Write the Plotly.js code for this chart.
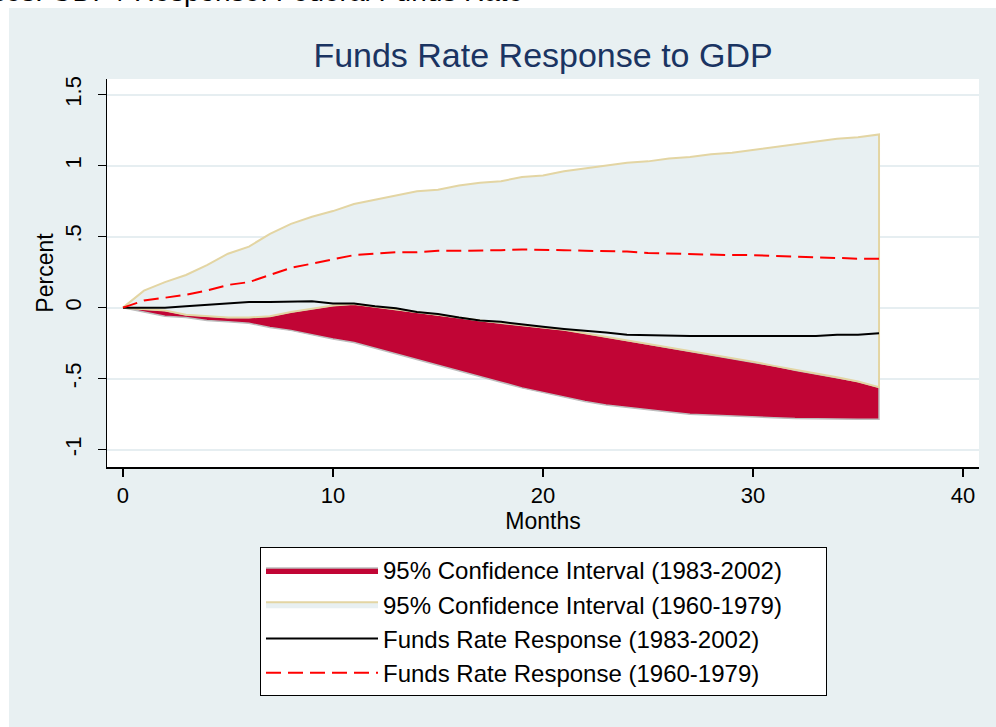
<!DOCTYPE html>
<html>
<head>
<meta charset="utf-8">
<script src="https://cdn.plot.ly/plotly-3.0.1.min.js"></script>
<style>
html,body{margin:0;padding:0;background:#ffffff;}
#chart{width:996px;height:727px;}
</style>
</head>
<body>
<div id="chart"></div>
<script>
// Months after the GDP shock
const months = [0,1,2,3,4,5,6,7,8,9,10,11,12,13,14,15,16,17,18,19,20,21,22,23,24,25,26,27,28,29,30,31,32,33,34,35,36];

// Funds rate response (1983-2002), black solid line
const resp8302 = [0,0,0,0.01,0.02,0.025,0.04,0.04,0.04,0.045,0.03,0.03,0.01,-0.005,-0.03,-0.045,-0.07,-0.09,-0.10,-0.12,-0.135,-0.15,-0.16,-0.175,-0.19,-0.195,-0.20,-0.20,-0.20,-0.20,-0.20,-0.20,-0.20,-0.20,-0.19,-0.19,-0.18];

// Funds rate response (1960-1979), red dashed line
const resp6079 = [0,0.05,0.07,0.09,0.12,0.16,0.18,0.23,0.28,0.31,0.34,0.37,0.38,0.39,0.39,0.40,0.40,0.40,0.405,0.41,0.41,0.405,0.40,0.40,0.395,0.385,0.38,0.38,0.375,0.37,0.37,0.365,0.36,0.355,0.345,0.345,0.345];

// 95% confidence band (1960-1979)
const ci6079Upper = [0,0.12,0.18,0.23,0.30,0.38,0.43,0.52,0.59,0.64,0.68,0.73,0.76,0.79,0.82,0.83,0.86,0.88,0.89,0.92,0.93,0.96,0.98,1.00,1.02,1.03,1.05,1.06,1.08,1.09,1.11,1.13,1.15,1.17,1.19,1.20,1.22];
const ci6079Lower = [0,-0.01,-0.02,-0.05,-0.06,-0.07,-0.07,-0.06,-0.03,-0.005,0.015,0.025,0.005,-0.01,-0.035,-0.05,-0.07,-0.09,-0.11,-0.125,-0.14,-0.155,-0.18,-0.205,-0.23,-0.255,-0.28,-0.305,-0.33,-0.355,-0.38,-0.41,-0.44,-0.465,-0.49,-0.52,-0.56];

// 95% confidence band (1983-2002): lower edge as read; its upper edge is hidden
// behind the 1960-1979 band, so its visible top follows that band's lower edge.
const ci8302Lower = [0,-0.03,-0.06,-0.07,-0.09,-0.10,-0.11,-0.14,-0.16,-0.19,-0.22,-0.245,-0.285,-0.325,-0.365,-0.405,-0.445,-0.485,-0.525,-0.565,-0.60,-0.63,-0.66,-0.685,-0.705,-0.72,-0.735,-0.75,-0.76,-0.765,-0.77,-0.775,-0.78,-0.785,-0.785,-0.785,-0.785];
const ci8302VisibleTop = ci6079Lower;

const xTickVals = [0,10,20,30,40];
const yTickVals = [-1,-0.5,0,0.5,1,1.5];
const yTickText = ['-1','-.5','0','.5','1','1.5'];

const legendNames = [
  '95% Confidence Interval (1983-2002)',
  '95% Confidence Interval (1960-1979)',
  'Funds Rate Response (1983-2002)',
  'Funds Rate Response (1960-1979)'
];

const revMonths = months.slice().reverse();
const bandX = months.concat(revMonths);

const traces = [
  {
    x: bandX,
    y: ci8302VisibleTop.concat(ci8302Lower.slice().reverse()),
    type: 'scatter', mode: 'lines', fill: 'toself',
    fillcolor: '#C10535',
    line: {color: '#BDBDBD', width: 1.5},
    name: legendNames[0], hoverinfo: 'skip'
  },
  {
    x: bandX,
    y: ci6079Upper.concat(ci6079Lower.slice().reverse()),
    type: 'scatter', mode: 'lines', fill: 'toself',
    fillcolor: '#E8F0F2',
    line: {color: '#E3D5A3', width: 2},
    name: legendNames[1], hoverinfo: 'skip'
  },
  {
    x: months, y: resp8302,
    type: 'scatter', mode: 'lines',
    line: {color: '#000000', width: 2},
    name: legendNames[2], hoverinfo: 'skip'
  },
  {
    x: months, y: resp6079,
    type: 'scatter', mode: 'lines',
    line: {color: '#FF0000', width: 2, dash: '15px,7px'},
    name: legendNames[3], hoverinfo: 'skip'
  }
];

const panel = '#E8F0F2';
const font = 'Liberation Sans, Arial, sans-serif';

const layout = {
  width: 996, height: 727,
  paper_bgcolor: panel,
  plot_bgcolor: '#FFFFFF',
  margin: {l: 107, r: 17, t: 79, b: 260, pad: 0},
  font: {family: font, color: '#000000', size: 22},
  title: {
    text: 'Funds Rate Response to GDP',
    font: {family: font, size: 34, color: '#1A3462'},
    x: 0.5, xref: 'paper', xanchor: 'center',
    y: 1 - 55/727, yref: 'container', yanchor: 'middle'
  },
  xaxis: {
    range: [-0.76, 40.76],
    tickvals: xTickVals,
    ticks: 'outside', ticklen: 8, tickwidth: 1.5, tickcolor: '#000000',
    ticklabelstandoff: 0,
    showline: true, linecolor: '#000000', linewidth: 1.5,
    showgrid: false, zeroline: false,
    tickfont: {size: 22},
    title: {text: 'Months', font: {size: 23}, standoff: 2}
  },
  yaxis: {
    range: [-1.122, 1.61],
    tickvals: yTickVals, ticktext: yTickText,
    tickangle: -90,
    ticks: 'outside', ticklen: 8, tickwidth: 1.5, tickcolor: '#000000',
    ticklabelstandoff: 8,
    showline: true, linecolor: '#000000', linewidth: 1.5,
    showgrid: true, gridcolor: '#E6EEF1', gridwidth: 2,
    zeroline: false,
    tickfont: {size: 22},
    title: {text: 'Percent', font: {size: 23}, standoff: 0}
  },
  showlegend: true,
  legend: {
    x: (260-107)/872, xanchor: 'left',
    y: (467-547)/388, yanchor: 'top',
    bgcolor: '#FFFFFF', bordercolor: '#000000', borderwidth: 1,
    font: {family: font, size: 24, color: '#000000'},
    itemwidth: 112,
    traceorder: 'normal',
    orientation: 'h',
    entrywidth: 438, entrywidthmode: 'pixels'
  },
  shapes: [
    {type: 'rect', xref: 'paper', yref: 'paper', layer: 'below',
     x0: -0.2, x1: 1.1, y0: (467-8)/388, y1: 1.4,
     fillcolor: '#FFFFFF', line: {width: 0}},
    {type: 'rect', xref: 'paper', yref: 'paper', layer: 'below',
     x0: -0.2, x1: (9-107)/872, y0: -0.8, y1: 1.4,
     fillcolor: '#FFFFFF', line: {width: 0}}
  ],
  annotations: [
    {text: 'Impulses: GDP / Response: Federal Funds Rate',
     xref: 'paper', yref: 'paper', showarrow: false,
     x: (525-107)/872, xanchor: 'right',
     y: (467-9)/388, yanchor: 'bottom',
     font: {family: font, size: 28, color: '#000000'}}
  ]
};

Plotly.newPlot('chart', traces, layout, {displayModeBar: false, staticPlot: true});
</script>
</body>
</html>
